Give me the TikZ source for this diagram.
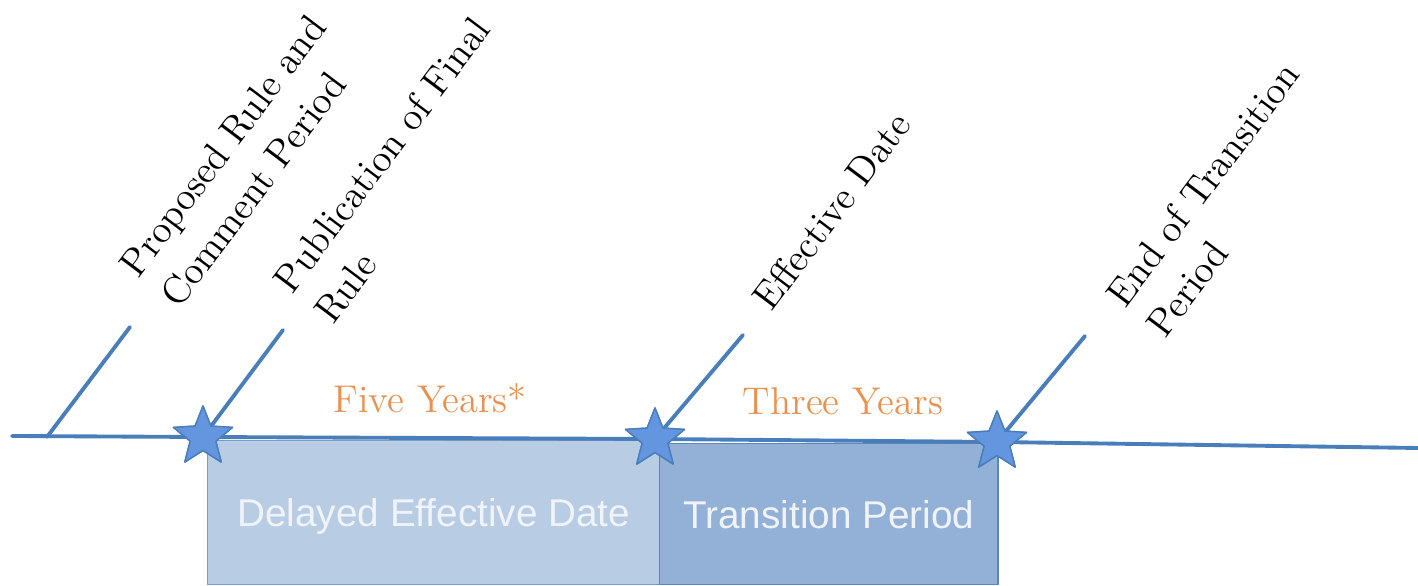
\documentclass[tikz,border=0pt]{standalone}
\usepackage{fontspec}
\newfontfamily\boxfont{Liberation Sans}
\usepackage{tikz}
\usetikzlibrary{shapes.geometric,positioning}
\definecolor{lineblue}{HTML}{4A7EBB}
\definecolor{starblue}{HTML}{6396DE}
\definecolor{delayfill}{HTML}{B8CCE4}
\definecolor{delaydraw}{HTML}{7A9CC9}
\definecolor{transfill}{HTML}{93B1D6}
\definecolor{transdraw}{HTML}{5A86BE}
\definecolor{yearorange}{HTML}{EA9150}
\definecolor{boxtext}{HTML}{F0F4FA}
\tikzset{
  time line/.style={draw=lineblue,line width=1.1pt},
  milestone/.style={star,star points=5,star point ratio=2.3,minimum size=0.62cm,
    inner sep=0pt,fill=starblue,draw=lineblue,line width=.4pt},
  event label/.style={rotate=53,anchor=south west,inner sep=0pt,align=left,
    font=\fontsize{11}{14.4}\selectfont},
  span label/.style={text=yearorange,font=\fontsize{11}{13}\selectfont},
  period box/.style={anchor=north west,inner sep=0pt,text=boxtext,text depth=-4pt,
    font=\boxfont\fontsize{11}{13}\selectfont}
}

\begin{document}
\begin{tikzpicture}[x=0.01cm,y=-0.01cm,line cap=round,line join=round]
  \useasboundingbox (0,0) rectangle (1418,586);

  % periods under the line
  \node[period box,fill=delayfill,draw=delaydraw,minimum width=4.52cm,minimum height=1.44cm]
    (delay) at (207,440) {Delayed Effective Date};
  \node[period box,fill=transfill,draw=transdraw,minimum width=3.38cm,minimum height=1.41cm]
    (trans) at (659,443) {Transition Period};

  \coordinate (t0) at (12,436);
  \coordinate (t9) at (1418,448);
  \coordinate (tick) at (47,437);
  \node[milestone] (s1) at (203,437) {};
  \node[milestone] (s2) at (655,439) {};
  \node[milestone] (s3) at (997,442) {};

  \coordinate (p0) at (130,327);
  \coordinate (p1) at (283,330);
  \coordinate (p2) at (743,335);
  \coordinate (p3) at (1085,336);

  \draw[time line] (t0) -- (s1.center) -- (s2.center) -- (s3.center) -- (t9);
  \draw[time line] (tick) -- (p0) (s1.center) -- (p1) (s2.center) -- (p2) (s3.center) -- (p3);

  \foreach \s in {s1,s2,s3} {\node[milestone] at (\s) {};}

  \node[event label] (lbl0) at (180,311) {Proposed Rule and\\Comment Period};
  \node[event label] (lbl1) at (334,327) {Publication of Final\\Rule};
  \node[event label] (lbl2) at (772,314) {Effective Date};
  \node[event label] (lbl3) at (1166,341) {End of Transition\\Period};

  \node[span label,anchor=base] (five) at (430,413) {Five Years*};
  \node[span label,anchor=base] (three) at (843,415) {Three Years};
\end{tikzpicture}
\end{document}
